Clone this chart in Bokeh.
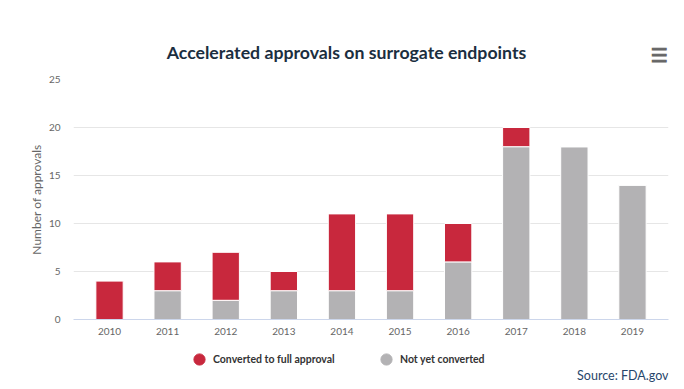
from bokeh.plotting import figure
from bokeh.layouts import column
from bokeh.models import Legend, LegendItem, Label, FixedTicker, ColumnDataSource, FactorRange, Range1d
from bokeh.embed import file_html
from bokeh.resources import INLINE

years = ["2010", "2011", "2012", "2013", "2014", "2015", "2016", "2017", "2018", "2019"]
converted = [4, 3, 5, 2, 8, 8, 4, 2, 0, 0]
not_yet = [0, 3, 2, 3, 3, 3, 6, 18, 18, 14]
y_ticks = [0, 5, 10, 15, 20, 25]
series_labels = ["Converted to full approval", "Not yet converted"]
title_text = "Accelerated approvals on surrogate endpoints"
source_text = "Source: FDA.gov"

RED = "#c8283d"
GRAY = "#b3b2b4"
FONT = "Lato"
W = 676
LEFT = 73
RIGHT = 8


def blank(h):
    # frame is aligned with the chart's frame by the column layout;
    # x range maps 1:1 onto page pixels
    f = figure(width=W, height=h, x_range=Range1d(LEFT, W - RIGHT), y_range=Range1d(0, h),
               min_border_left=LEFT, min_border_right=RIGHT, min_border_top=0,
               min_border_bottom=0, x_axis_type=None, y_axis_type=None,
               output_backend="svg", toolbar_location=None)
    f.outline_line_color = None
    return f


# ---- header: title + menu icon
top = blank(71)
top.add_layout(Label(x=346, y=19, text=title_text, text_align="center",
                     text_baseline="middle", text_font=FONT, text_font_size="17.7px",
                     text_font_style="bold", text_color="#1b2e40"))
top.add_layout(Label(x=658.5, y=17, text="\u2630", text_align="center",
                     text_baseline="middle", text_font="DejaVu Sans",
                     text_font_size="19px", text_color="#666666",
                     text_outline_color="#666666"))

# ---- main chart
source = ColumnDataSource(dict(year=years, converted=converted, not_yet=not_yet))

p = figure(x_range=FactorRange(factors=years, range_padding=0.12, range_padding_units="absolute"),
           y_range=(0, 25), width=W, height=274,
           output_backend="svg", toolbar_location=None,
           min_border_left=LEFT, min_border_right=RIGHT, min_border_top=8, min_border_bottom=26)

p.vbar_stack(["not_yet", "converted"], x="year", width=0.47, source=source,
             color=[GRAY, RED], line_color="white", line_width=1)

p.outline_line_color = None
p.xgrid.grid_line_color = None
p.ygrid.grid_line_color = "#e6e6e6"
p.ygrid.ticker = FixedTicker(ticks=y_ticks)

p.yaxis.ticker = FixedTicker(ticks=y_ticks)
p.yaxis.axis_line_color = None
p.yaxis.major_tick_line_color = None
p.yaxis.minor_tick_line_color = None
p.yaxis.major_tick_out = 0
p.yaxis.major_label_text_font = FONT
p.yaxis.major_label_text_font_size = "10px"
p.yaxis.major_label_text_color = "#666666"
p.yaxis.major_label_standoff = 13
p.yaxis.axis_label = "Number of approvals"
p.yaxis.axis_label_text_font = FONT
p.yaxis.axis_label_text_font_size = "12px"
p.yaxis.axis_label_text_font_style = "normal"
p.yaxis.axis_label_text_color = "#666666"
p.yaxis.axis_label_standoff = 2

p.xaxis.axis_line_color = "#ccd6eb"
p.xaxis.major_tick_line_color = None
p.xaxis.minor_tick_line_color = None
p.xaxis.major_tick_out = 0
p.xaxis.major_label_text_font = FONT
p.xaxis.major_label_text_font_size = "10px"
p.xaxis.major_label_text_color = "#666666"
p.xaxis.major_label_standoff = 8

# ---- footer: legend + source
bottom = blank(40)
legend_src = ColumnDataSource(dict(converted=converted, not_yet=not_yet))
c1 = bottom.scatter(x="converted", y="converted", source=legend_src,
                    marker="circle", size=11, color=RED, visible=False)
c2 = bottom.scatter(x="not_yet", y="not_yet", source=legend_src,
                    marker="circle", size=11, color=GRAY, visible=False)

for renderer, label, lx in [(c1, series_labels[0], 185 - LEFT), (c2, series_labels[1], 372 - LEFT)]:
    lg = Legend(items=[LegendItem(label=label, renderers=[renderer])],
                location=(lx, 12), orientation="horizontal",
                label_text_font=FONT, label_text_font_size="10.5px",
                label_text_font_style="bold", label_text_color="#333333",
                border_line_color=None, background_fill_alpha=0,
                inactive_fill_alpha=0,
                glyph_width=28, glyph_height=28, label_standoff=-3,
                label_height=14, padding=0, margin=0)
    bottom.add_layout(lg)

bottom.add_layout(Label(x=668, y=10, text=source_text, text_align="right",
                        text_baseline="middle", text_font=FONT, text_font_size="12.5px",
                        text_color="#27466b"))

layout = column(top, p, bottom, spacing=0)
open("out.html", "w").write(file_html(layout, INLINE))
